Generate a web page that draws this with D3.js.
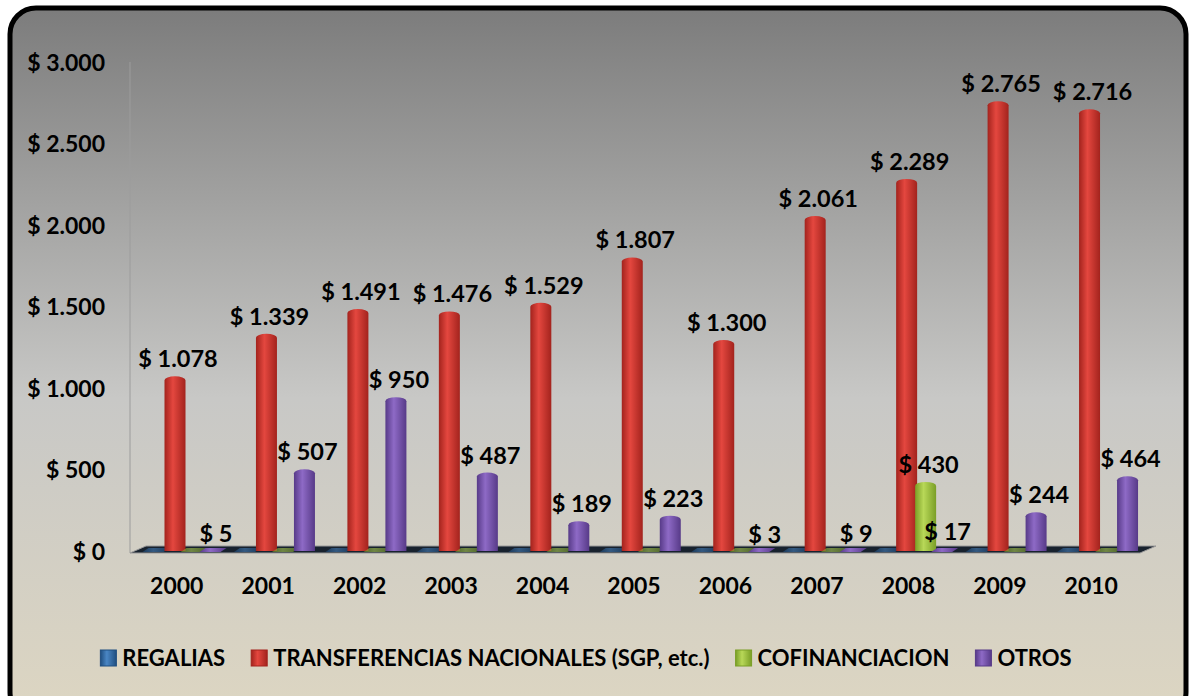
<!DOCTYPE html>
<meta charset="utf-8">
<style>
  body { margin: 0; background: #fff; }
  text { font-family: 'Lato', sans-serif; font-weight: bold; fill: #000; }
</style>
<body>
<script src="https://cdn.jsdelivr.net/npm/d3@7"></script>
<script>

// data
var years = ["2000","2001","2002","2003","2004","2005","2006","2007","2008","2009","2010"];
var series = ["REGALIAS", "TRANSFERENCIAS NACIONALES (SGP, etc.)", "COFINANCIACION", "OTROS"];
var regalias = [0,0,0,0,0,0,0,0,0,0,0];
var transferencias = [1078,1339,1491,1476,1529,1807,1300,2061,2289,2765,2716];
var cofinanciacion = [0,0,0,0,0,0,0,0,430,0,0];
var otros = [5,507,950,487,189,223,3,9,17,244,464];
var yTicks = [0,500,1000,1500,2000,2500,3000];

var colors = [
  {dark: "#1f4e80", light: "#4a86c4"},
  {dark: "#a3231d", light: "#e4473f"},
  {dark: "#7a9e26", light: "#b8d858"},
  {dark: "#573a88", light: "#8e6ac6"}
];

var W = 1193, H = 696;
var svg = d3.select("body").append("svg")
    .attr("width", W)
    .attr("height", H);

var defs = svg.append("defs");
var bg = defs.append("linearGradient").attr("id", "bg")
    .attr("x1", 0).attr("y1", 0).attr("x2", 0).attr("y2", 1);
bg.append("stop").attr("offset", "0%").attr("stop-color", "#7c7c7c");
bg.append("stop").attr("offset", "55%").attr("stop-color", "#c8c8c6");
bg.append("stop").attr("offset", "100%").attr("stop-color", "#ddd6c2");

colors.forEach(function(c, i) {
  var g = defs.append("linearGradient").attr("id", "bar" + i)
      .attr("x1", 0).attr("y1", 0).attr("x2", 1).attr("y2", 0);
  g.append("stop").attr("offset", "0%").attr("stop-color", c.dark);
  g.append("stop").attr("offset", "40%").attr("stop-color", c.light);
  g.append("stop").attr("offset", "100%").attr("stop-color", c.dark);
});

// frame
svg.append("rect")
    .attr("x", 10).attr("y", 8)
    .attr("width", 1176).attr("height", 710)
    .attr("rx", 26)
    .attr("fill", "url(#bg)")
    .attr("stroke", "#000")
    .attr("stroke-width", 5);

var x = d3.scaleBand().domain(years).range([134, 1140]);
var xs = d3.scaleBand().domain(d3.range(4)).range([0, 76]);
var barW = 21;
var y = d3.scaleLinear().domain([0, 3000]).range([552, 63]);

var locale = d3.formatLocale({decimal: ",", thousands: ".", grouping: [3], currency: ["$ ", ""]});
var fmt = locale.format("$,.0f");

function barX(d) { return x(d.year) + 12.5 + xs(d.s) + xs.bandwidth() / 2 - barW / 2; }

// floor
var f = d3.path();
f.moveTo(130, 553); f.lineTo(1140, 553); f.lineTo(1156, 546); f.lineTo(146, 546); f.closePath();
svg.append("path").attr("d", f.toString())
    .attr("fill", "#18222e").attr("stroke", "#9a9a9a").attr("stroke-width", 1);

// y axis
svg.append("g")
    .attr("transform", "translate(130,0)")
    .call(d3.axisLeft(y).tickValues(yTicks).tickSize(0).tickPadding(25).tickFormat(fmt))
    .call(function(g) {
      g.select(".domain").attr("stroke", "#9c9c9c").attr("d", "M0,62V553");
      g.selectAll("text").attr("font-size", 23).attr("font-family", "Lato").attr("font-weight", "bold");
    });

// x axis
svg.append("g")
    .attr("transform", "translate(-3,553)")
    .call(d3.axisBottom(x).tickSize(0).tickPadding(25))
    .call(function(g) {
      g.select(".domain").remove();
      g.selectAll("text").attr("font-size", 23).attr("font-family", "Lato").attr("font-weight", "bold");
    });

var all = [regalias, transferencias, cofinanciacion, otros];
var bars = [];
all.forEach(function(vals, s) {
  vals.forEach(function(v, i) {
    bars.push({s: s, year: years[i], v: v});
  });
});

function barPath(d) {
  var x0 = barX(d), w = barW;
  var base = 551, top = y(d.v);
  var ry = 4;
  if (base - top < ry * 2) {
    // flat
    var p = d3.path();
    p.moveTo(x0 - 3, base + 1); p.lineTo(x0 + w - 3, base + 1);
    p.lineTo(x0 + w + 3, base - 3); p.lineTo(x0 + 3, base - 3); p.closePath();
    return p.toString();
  }
  return "M" + x0 + "," + base +
         "V" + (top + ry) +
         "A" + (w / 2) + "," + ry + " 0 0 1 " + (x0 + w) + "," + (top + ry) +
         "V" + base + "Z";
}

svg.append("g").selectAll("path")
    .data(bars)
  .enter().append("path")
    .attr("d", barPath)
    .attr("fill", function(d) { return "url(#bar" + d.s + ")"; })
    .attr("opacity", function(d) { return d.v === 0 ? 0.55 : 1; });

// value labels
svg.append("g").selectAll("text")
    .data(bars.filter(function(d) { return d.v > 0; }))
  .enter().append("text")
    .attr("x", function(d) { return barX(d) + barW / 2 + 3; })
    .attr("y", function(d) { return y(d.v) - 9; })
    .attr("text-anchor", "middle")
    .attr("font-size", 23.5)
    .text(function(d) { return fmt(d.v); });

// legend
var legend = svg.append("g").attr("transform", "translate(0,658)");
var items = legend.selectAll("g")
    .data(series)
  .enter().append("g");
items.append("rect")
    .attr("x", 0).attr("y", -8)
    .attr("width", 16).attr("height", 16)
    .attr("fill", function(d, i) { return "url(#bar" + i + ")"; })
    .attr("stroke", function(d, i) { return colors[i].dark; });
items.append("text")
    .attr("x", 22).attr("dy", "0.36em")
    .attr("font-size", 22)
    .text(function(d) { return d; });

var pos = 0, widths = [];
items.each(function() { widths.push(this.getBBox().width); });
var total = d3.sum(widths) + 26 * (widths.length - 1);
pos = 586 - total / 2;
items.each(function(d, i) {
  d3.select(this).attr("transform", "translate(" + pos + ",0)");
  pos += widths[i] + 26;
});

</script>
</body>
